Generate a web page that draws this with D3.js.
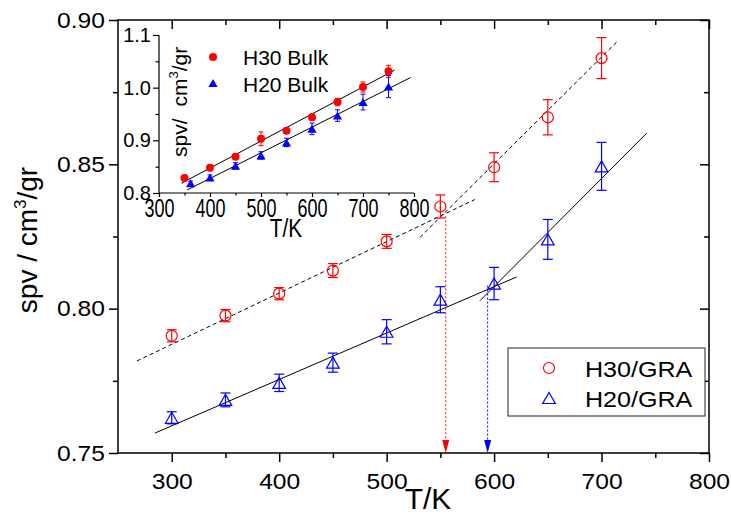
<!DOCTYPE html>
<html>
<head>
<meta charset="utf-8">
<script src="https://cdn.jsdelivr.net/npm/d3@7"></script>
<style>
  body { margin: 0; background: #fff; }
  svg { display: block; font-family: "Liberation Sans", Arial, sans-serif; }
</style>
</head>
<body>
<svg id="chart" width="731" height="515"></svg>
<script>
// ---- data ----
// main plot: GRA composites
var tMain = [300, 350, 400, 450, 500, 550, 600, 650, 700];
var h30Gra = [0.7906, 0.7976, 0.8052, 0.8132, 0.8233, 0.8354, 0.8490, 0.8663, 0.8868];
var h30GraErr = [0.0021, 0.0021, 0.0021, 0.0024, 0.0024, 0.0040, 0.0050, 0.0061, 0.0071];
var h20Gra = [0.7622, 0.7684, 0.7743, 0.7813, 0.7920, 0.8031, 0.8087, 0.8240, 0.8493];
var h20GraErr = [0.0021, 0.0024, 0.0030, 0.0033, 0.0042, 0.0045, 0.0056, 0.0069, 0.0083];

// fitted line segments [T, spv]
var fitH30Low = [[267.7, 0.7819], [582, 0.8378]];
var fitH30High = [[531, 0.8247], [715, 0.8927]];
var fitH20Low = [[284.4, 0.7569], [621, 0.8110]];
var fitH20High = [[587, 0.8028], [742, 0.8608]];

// transition arrows (T, spv where the fits cross)
var arrowT = [555, 594];
var arrowV = [0.832, 0.808];

// inset: bulk polymers
var tBulkH30 = [350, 400, 450, 500, 550, 600, 650, 700, 750];
var h30Bulk = [0.8287, 0.848, 0.869, 0.903, 0.918, 0.944, 0.9727, 1.0013, 1.031];
var h30BulkErr = [0.005, 0.005, 0.005, 0.013, 0.005, 0.006, 0.007, 0.0096, 0.0115];
var tBulkH20 = [362, 400, 450, 500, 550, 600, 650, 700, 750];
var h20Bulk = [0.8185, 0.8293, 0.8516, 0.8713, 0.896, 0.9218, 0.947, 0.9727, 1.002];
var h20BulkErr = [0.004, 0.005, 0.006, 0.007, 0.008, 0.011, 0.011, 0.015, 0.021];
var fitH30Bulk = [[344, 0.8185], [762, 1.0333]];
var fitH20Bulk = [[355, 0.8057], [793.5, 1.0193]];

// ticks and labels
var xMajor = [300, 400, 500, 600, 700, 800];
var xMinor = [350, 450, 550, 650, 750];
var yMajor = [0.75, 0.80, 0.85, 0.90];
var yMinor = [0.775, 0.825, 0.875];
var insetXMajor = [300, 400, 500, 600, 700, 800];
var insetXMinor = [350, 450, 550, 650, 750];
var insetYMajor = [0.8, 0.9, 1.0, 1.1];
var insetYMinor = [0.85, 0.95, 1.05];
var legendMain = ["H30/GRA", "H20/GRA"];
var legendInset = ["H30 Bulk", "H20 Bulk"];

var red = "#ff0000";
var blue = "#0000ff";

var svg = d3.select("#chart");

// ---- scales ----
var x = d3.scaleLinear().domain([250, 800]).range([118, 709]);
var y = d3.scaleLinear().domain([0.75, 0.90]).range([453, 20]);
var xi = d3.scaleLinear().domain([300, 800]).range([159, 414]);
var yi = d3.scaleLinear().domain([0.8, 1.1]).range([193, 35]);

function cleanAxis(g, sw) {
    g.attr("font-family", null).attr("font-size", null);
    g.select(".domain").remove();
    g.selectAll("line").attr("stroke", "#000").attr("stroke-width", sw);
    g.selectAll("text").attr("fill", "#000");
}

function trianglePath(s) {
    return "M0," + (-s) + "L" + (s * 1.15) + "," + s + "L" + (-s * 1.15) + "," + s + "Z";
}

// ---- main axes ----
var gx = svg.append("g").attr("transform", "translate(0,453)")
    .call(d3.axisBottom(x).tickValues(xMajor).tickSize(9).tickSizeOuter(0).tickPadding(11));
cleanAxis(gx, 1.5);
gx.selectAll("text").attr("font-size", 22).attr("transform", "scale(1.12,1)");
cleanAxis(svg.append("g").attr("transform", "translate(0,453)")
    .call(d3.axisBottom(x).tickValues(xMinor).tickSize(5).tickFormat("")), 1.5);

// top (inward)
cleanAxis(svg.append("g").attr("transform", "translate(0,20)")
    .call(d3.axisTop(x).tickValues(xMajor).tickSize(-9).tickFormat("")), 1.5);
cleanAxis(svg.append("g").attr("transform", "translate(0,20)")
    .call(d3.axisTop(x).tickValues(xMinor).tickSize(-5).tickFormat("")), 1.5);

var gy = svg.append("g").attr("transform", "translate(118,0)")
    .call(d3.axisLeft(y).tickValues(yMajor).tickSize(9).tickFormat(d3.format(".2f")));
cleanAxis(gy, 1.5);
gy.selectAll("text").attr("font-size", 22).attr("x", -13 / 1.12).attr("transform", "scale(1.12,1)");
cleanAxis(svg.append("g").attr("transform", "translate(118,0)")
    .call(d3.axisLeft(y).tickValues(yMinor).tickSize(5).tickFormat("")), 1.5);

// right (inward)
cleanAxis(svg.append("g").attr("transform", "translate(709,0)")
    .call(d3.axisRight(y).tickValues(yMajor).tickSize(-9).tickFormat("")), 1.5);
cleanAxis(svg.append("g").attr("transform", "translate(709,0)")
    .call(d3.axisRight(y).tickValues(yMinor).tickSize(-5).tickFormat("")), 1.5);

svg.append("rect")
    .attr("x", x.range()[0]).attr("y", y.range()[1])
    .attr("width", x.range()[1] - x.range()[0])
    .attr("height", y.range()[0] - y.range()[1])
    .attr("fill", "none").attr("stroke", "#000").attr("stroke-width", 1.5);

// axis titles
svg.append("text")
    .attr("x", 428).attr("y", 509)
    .attr("text-anchor", "middle").attr("font-size", 30)
    .text("T/K");

var yt = svg.append("text")
    .attr("transform", "translate(37,240) rotate(-90)")
    .attr("text-anchor", "middle").attr("font-size", 28);
yt.append("tspan").text("spv / cm");
yt.append("tspan").attr("font-size", 17).attr("dy", -11).text("3");
yt.append("tspan").attr("dy", 11).text("/gr");

// ---- main fits ----
var line = d3.line().x(function(d) { return x(d[0]); }).y(function(d) { return y(d[1]); });

[fitH30Low, fitH30High].forEach(function(seg) {
    svg.append("path").attr("d", line(seg))
        .attr("fill", "none").attr("stroke", "#000").attr("stroke-width", 1)
        .attr("stroke-dasharray", "4,3");
});
[fitH20Low, fitH20High].forEach(function(seg) {
    svg.append("path").attr("d", line(seg))
        .attr("fill", "none").attr("stroke", "#000").attr("stroke-width", 1);
});

// ---- transition arrows ----
var arrowColors = [red, blue];
arrowT.forEach(function(t, i) {
    var ax = x(t);
    svg.append("line")
        .attr("x1", ax).attr("x2", ax)
        .attr("y1", y(arrowV[i])).attr("y2", 441)
        .attr("stroke", arrowColors[i]).attr("stroke-width", 1)
        .attr("stroke-dasharray", "2,2");
    svg.append("path")
        .attr("d", "M" + (ax - 3.5) + ",440L" + (ax + 3.5) + ",440L" + ax + "," + y(0.75) + "Z")
        .attr("fill", arrowColors[i]);
});

// ---- error bars + markers ----
function errorBars(g, xs, ys, ts, vs, es, color, cap, sw) {
    ts.forEach(function(t, i) {
        var cx = xs(t), top = ys(vs[i] + es[i]), bot = ys(vs[i] - es[i]);
        g.append("line").attr("x1", cx).attr("x2", cx).attr("y1", top).attr("y2", bot)
            .attr("stroke", color).attr("stroke-width", sw);
        g.append("line").attr("x1", cx - cap).attr("x2", cx + cap).attr("y1", top).attr("y2", top)
            .attr("stroke", color).attr("stroke-width", sw);
        g.append("line").attr("x1", cx - cap).attr("x2", cx + cap).attr("y1", bot).attr("y2", bot)
            .attr("stroke", color).attr("stroke-width", sw);
    });
}

var gMain = svg.append("g");
errorBars(gMain, x, y, tMain, h30Gra, h30GraErr, red, 5, 1.2);
errorBars(gMain, x, y, tMain, h20Gra, h20GraErr, blue, 5, 1.2);

gMain.selectAll(".c30").data(tMain).enter().append("circle")
    .attr("cx", function(d) { return x(d); })
    .attr("cy", function(d, i) { return y(h30Gra[i]); })
    .attr("r", 5.5).attr("fill", "none").attr("stroke", red).attr("stroke-width", 1.2);

gMain.selectAll(".t20").data(tMain).enter().append("path")
    .attr("transform", function(d, i) { return "translate(" + x(d) + "," + y(h20Gra[i]) + ")"; })
    .attr("d", trianglePath(5.5)).attr("fill", "none").attr("stroke", blue).attr("stroke-width", 1.2);

// ---- main legend ----
var lg = svg.append("g");
lg.append("rect").attr("x", 508).attr("y", 348).attr("width", 197).attr("height", 68)
    .attr("fill", "#fff").attr("stroke", "#222").attr("stroke-width", 1);
lg.append("circle").attr("cx", 549).attr("cy", 368).attr("r", 5.5)
    .attr("fill", "none").attr("stroke", red).attr("stroke-width", 1.2);
lg.append("path").attr("transform", "translate(549,398)").attr("d", trianglePath(5.5))
    .attr("fill", "none").attr("stroke", blue).attr("stroke-width", 1.2);
legendMain.forEach(function(s, i) {
    lg.append("text")
        .attr("transform", "translate(585," + (376.5 + i * 30) + ") scale(1.14,1)")
        .attr("font-size", 22).text(s);
});

// ---- inset ----
var gi = svg.append("g");

var gix = gi.append("g").attr("transform", "translate(0,193)")
    .call(d3.axisBottom(xi).tickValues(insetXMajor).tickSize(4).tickSizeOuter(0).tickPadding(2));
cleanAxis(gix, 1.2);
gix.selectAll("text").attr("font-size", 25).attr("transform", "scale(0.72,1)");
cleanAxis(gi.append("g").attr("transform", "translate(0,193)")
    .call(d3.axisBottom(xi).tickValues(insetXMinor).tickSize(2.5).tickFormat("")), 1.2);

var giy = gi.append("g").attr("transform", "translate(159,0)")
    .call(d3.axisLeft(yi).tickValues(insetYMajor).tickSize(6).tickPadding(2).tickFormat(d3.format(".1f")));
cleanAxis(giy, 1.2);
giy.selectAll("text").attr("font-size", 20);
cleanAxis(gi.append("g").attr("transform", "translate(159,0)")
    .call(d3.axisLeft(yi).tickValues(insetYMinor).tickSize(3.5).tickFormat("")), 1.2);

gi.append("path")
    .attr("d", "M" + xi(800) + "," + yi(0.8) + "H" + xi(300) + "V" + yi(1.1))
    .attr("fill", "none").attr("stroke", "#000").attr("stroke-width", 1.2);

gi.append("text")
    .attr("transform", "translate(286,237) scale(0.8,1)")
    .attr("text-anchor", "middle").attr("font-size", 26).text("T/K");

var iyt = gi.append("text")
    .attr("transform", "translate(187,157) rotate(-90)")
    .attr("font-size", 21);
iyt.append("tspan").text("spv/");
iyt.append("tspan").attr("dx", 12).text("cm");
iyt.append("tspan").attr("font-size", 13).attr("dy", -9).text("3");
iyt.append("tspan").attr("dy", 9).text("/gr");

var lineI = d3.line().x(function(d) { return xi(d[0]); }).y(function(d) { return yi(d[1]); });
[fitH30Bulk, fitH20Bulk].forEach(function(seg) {
    gi.append("path").attr("d", lineI(seg))
        .attr("fill", "none").attr("stroke", "#000").attr("stroke-width", 1);
});

errorBars(gi, xi, yi, tBulkH30, h30Bulk, h30BulkErr, red, 2.5, 1);
errorBars(gi, xi, yi, tBulkH20, h20Bulk, h20BulkErr, blue, 2.5, 1);

gi.selectAll(".b30").data(tBulkH30).enter().append("circle")
    .attr("cx", function(d) { return xi(d); })
    .attr("cy", function(d, i) { return yi(h30Bulk[i]); })
    .attr("r", 4).attr("fill", red);
gi.selectAll(".b20").data(tBulkH20).enter().append("path")
    .attr("transform", function(d, i) { return "translate(" + xi(d) + "," + yi(h20Bulk[i]) + ")"; })
    .attr("d", trianglePath(4)).attr("fill", blue);

// inset legend
gi.append("circle").attr("cx", 213).attr("cy", 57).attr("r", 4).attr("fill", red);
gi.append("path").attr("transform", "translate(213,83)").attr("d", trianglePath(4)).attr("fill", blue);
legendInset.forEach(function(s, i) {
    gi.append("text").attr("x", 243).attr("y", 65 + i * 26.5)
        .attr("font-size", 21).text(s);
});
</script>
</body>
</html>
